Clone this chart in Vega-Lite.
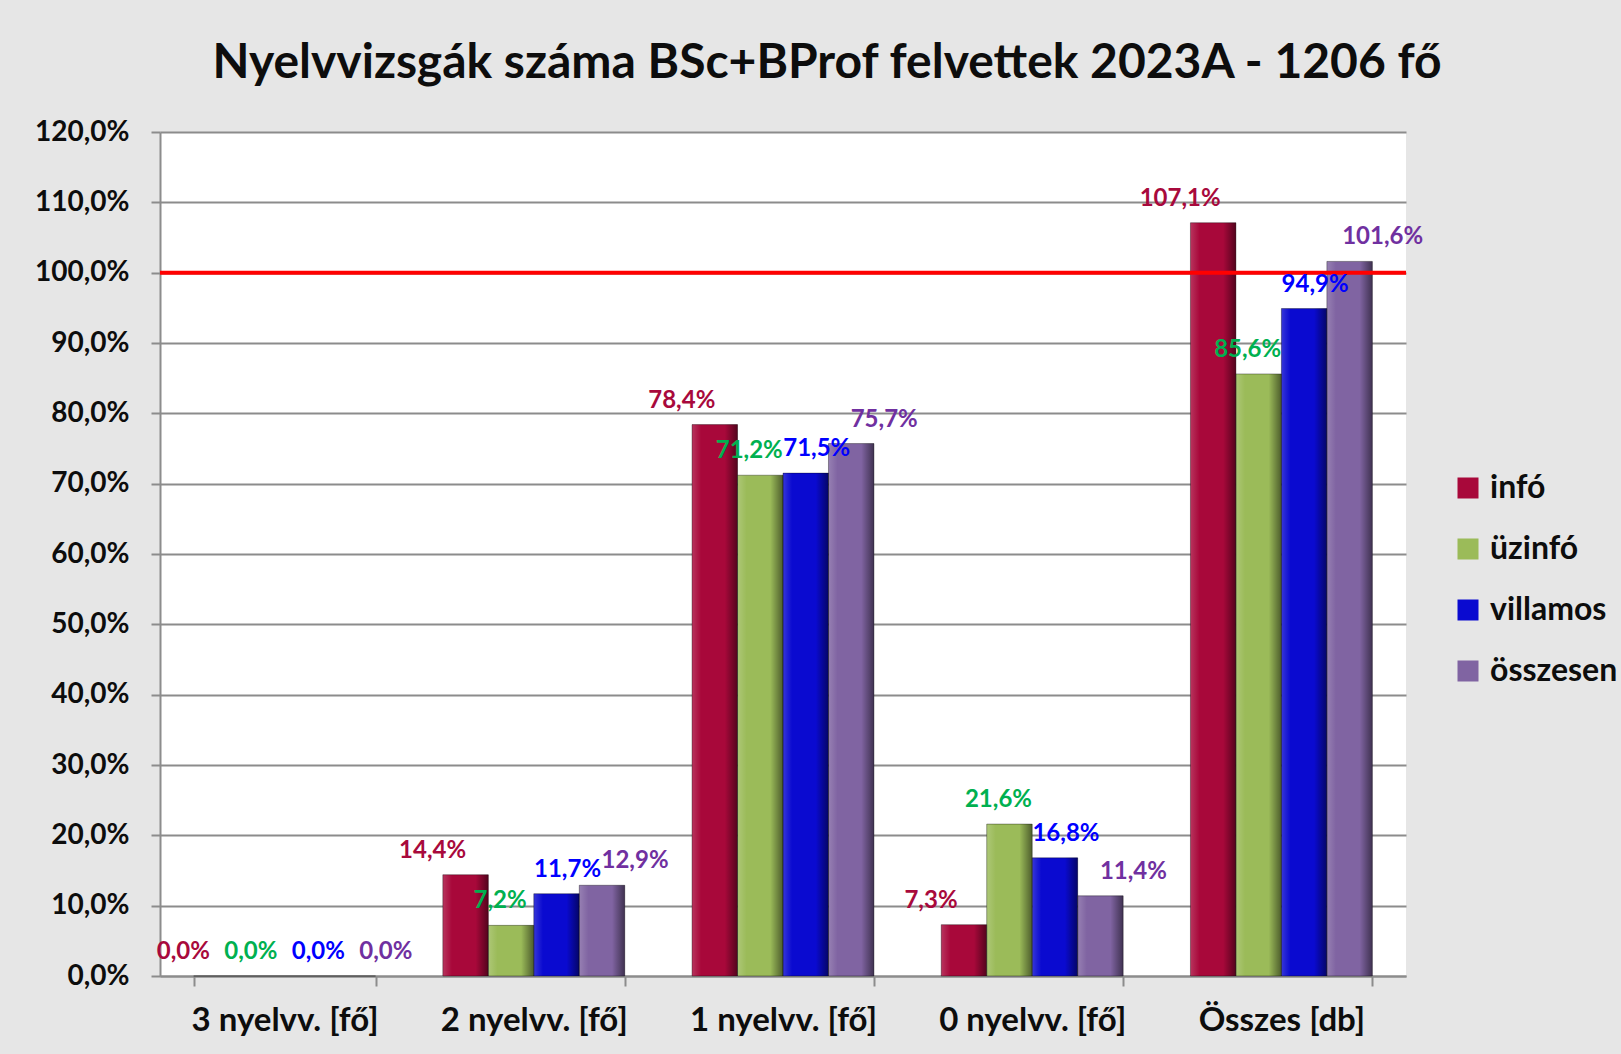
{
  "$schema": "https://vega.github.io/schema/vega-lite/v6.json",
  "width": 1246,
  "height": 844,
  "autosize": {"type": "none"},
  "padding": {"left": 160, "top": 132, "right": 215, "bottom": 78},
  "background": "#e6e6e6",
  "title": {
    "text": "Nyelvvizsgák száma BSc+BProf felvettek 2023A - 1206 fő",
    "font": "Lato", "fontSize": 48, "fontWeight": "bold", "color": "#0d0d0d",
    "anchor": "middle", "frame": "group", "offset": 30, "dx": 44
  },
  "data": {
    "values": [
      {"cat": "3 nyelvv. [fő]", "series": "infó", "value": 0},
      {"cat": "3 nyelvv. [fő]", "series": "üzinfó", "value": 0},
      {"cat": "3 nyelvv. [fő]", "series": "villamos", "value": 0},
      {"cat": "3 nyelvv. [fő]", "series": "összesen", "value": 0},
      {"cat": "2 nyelvv. [fő]", "series": "infó", "value": 0.144},
      {"cat": "2 nyelvv. [fő]", "series": "üzinfó", "value": 0.072},
      {"cat": "2 nyelvv. [fő]", "series": "villamos", "value": 0.117},
      {"cat": "2 nyelvv. [fő]", "series": "összesen", "value": 0.129},
      {"cat": "1 nyelvv. [fő]", "series": "infó", "value": 0.784},
      {"cat": "1 nyelvv. [fő]", "series": "üzinfó", "value": 0.712},
      {"cat": "1 nyelvv. [fő]", "series": "villamos", "value": 0.715},
      {"cat": "1 nyelvv. [fő]", "series": "összesen", "value": 0.757},
      {"cat": "0 nyelvv. [fő]", "series": "infó", "value": 0.073},
      {"cat": "0 nyelvv. [fő]", "series": "üzinfó", "value": 0.216},
      {"cat": "0 nyelvv. [fő]", "series": "villamos", "value": 0.168},
      {"cat": "0 nyelvv. [fő]", "series": "összesen", "value": 0.114},
      {"cat": "Összes [db]", "series": "infó", "value": 1.071},
      {"cat": "Összes [db]", "series": "üzinfó", "value": 0.856},
      {"cat": "Összes [db]", "series": "villamos", "value": 0.949},
      {"cat": "Összes [db]", "series": "összesen", "value": 1.016}
    ]
  },
  "layer": [
    {
      "mark": {"type": "bar"},
      "encoding": {
        "x": {
          "field": "cat", "type": "nominal",
          "sort": ["3 nyelvv. [fő]", "2 nyelvv. [fő]", "1 nyelvv. [fő]", "0 nyelvv. [fő]", "Összes [db]"],
          "scale": {"paddingInner": 0.27, "paddingOuter": 0.135},
          "axis": {
            "title": null, "labelAngle": 0, "tickBand": "extent", "ticks": true, "tickSize": 10,
            "tickColor": "#8c8c8c", "tickWidth": 2, "domainColor": "#8c8c8c", "domainWidth": 2,
            "labelFont": "Lato", "labelFontSize": 33, "labelFontWeight": "bold", "labelColor": "#0d0d0d",
            "labelPadding": 18, "labelLimit": 400, "labelOverlap": false, "grid": false
          }
        },
        "xOffset": {
          "field": "series", "type": "nominal",
          "sort": ["infó", "üzinfó", "villamos", "összesen"],
          "scale": {"paddingInner": 0, "paddingOuter": 0}
        },
        "y": {
          "field": "value", "type": "quantitative",
          "scale": {"domain": [0, 1.2], "nice": false, "zero": true},
          "axis": {
            "title": null, "values": [0, 0.1, 0.2, 0.3, 0.4, 0.5, 0.6, 0.7, 0.8, 0.9, 1.0, 1.1, 1.2],
            "format": ".1%", "grid": true, "gridColor": "#8c8c8c", "gridWidth": 2,
            "domainColor": "#8c8c8c", "domainWidth": 2, "tickColor": "#8c8c8c", "tickWidth": 2, "tickSize": 9,
            "labelFont": "Lato", "labelFontSize": 28, "labelFontWeight": "bold", "labelColor": "#0d0d0d",
            "labelPadding": 22
          }
        },
        "color": {
          "field": "series", "type": "nominal",
          "sort": ["infó", "üzinfó", "villamos", "összesen"],
          "scale": {"domain": ["infó", "üzinfó", "villamos", "összesen"], "range": ["#a8083a", "#9bbb59", "#0a0ad0", "#8064a2"]},
          "legend": {
            "title": null, "orient": "none", "legendX": 1292, "legendY": 340,
            "symbolType": "square", "symbolSize": 441, "symbolStrokeWidth": 0,
            "labelFont": "Lato", "labelFontSize": 32, "labelFontWeight": "bold", "labelColor": "#0d0d0d",
            "labelOffset": 6, "rowPadding": 29
          }
        }
      }
    },
    {
      "mark": {
        "type": "bar",
        "stroke": "rgba(0,0,0,0.35)", "strokeWidth": 1,
        "color": {
          "gradient": "linear", "x1": 0, "x2": 1, "y1": 0, "y2": 0,
          "stops": [
            {"offset": 0, "color": "rgba(255,255,255,0.18)"},
            {"offset": 0.2, "color": "rgba(255,255,255,0)"},
            {"offset": 0.72, "color": "rgba(0,0,0,0)"},
            {"offset": 1, "color": "rgba(0,0,0,0.5)"}
          ]
        }
      },
      "encoding": {
        "x": {"field": "cat", "type": "nominal", "sort": ["3 nyelvv. [fő]", "2 nyelvv. [fő]", "1 nyelvv. [fő]", "0 nyelvv. [fő]", "Összes [db]"]},
        "xOffset": {"field": "series", "type": "nominal", "sort": ["infó", "üzinfó", "villamos", "összesen"]},
        "y": {"field": "value", "type": "quantitative"}
      }
    },
    {
      "data": {"values": [{"ref": 1}]},
      "mark": {"type": "rule", "color": "#ff0000", "strokeWidth": 4},
      "encoding": {"y": {"field": "ref", "type": "quantitative"}}
    },
    {
      "transform": [{"filter": "datum.series == 'infó'"}],
      "mark": {"type": "text", "font": "Lato", "fontSize": 24, "fontWeight": "bold", "color": "#a8093c", "baseline": "bottom", "dx": -33, "dy": -12},
      "encoding": {
        "x": {"field": "cat", "type": "nominal", "sort": ["3 nyelvv. [fő]", "2 nyelvv. [fő]", "1 nyelvv. [fő]", "0 nyelvv. [fő]", "Összes [db]"]},
        "xOffset": {"field": "series", "type": "nominal", "sort": ["infó", "üzinfó", "villamos", "összesen"]},
        "y": {"field": "value", "type": "quantitative"},
        "text": {"field": "value", "type": "quantitative", "format": ".1%"}
      }
    },
    {
      "transform": [{"filter": "datum.series == 'üzinfó'"}],
      "mark": {"type": "text", "font": "Lato", "fontSize": 24, "fontWeight": "bold", "color": "#00b050", "baseline": "bottom", "dx": -11, "dy": -12},
      "encoding": {
        "x": {"field": "cat", "type": "nominal", "sort": ["3 nyelvv. [fő]", "2 nyelvv. [fő]", "1 nyelvv. [fő]", "0 nyelvv. [fő]", "Összes [db]"]},
        "xOffset": {"field": "series", "type": "nominal", "sort": ["infó", "üzinfó", "villamos", "összesen"]},
        "y": {"field": "value", "type": "quantitative"},
        "text": {"field": "value", "type": "quantitative", "format": ".1%"}
      }
    },
    {
      "transform": [{"filter": "datum.series == 'villamos'"}],
      "mark": {"type": "text", "font": "Lato", "fontSize": 24, "fontWeight": "bold", "color": "#0000ff", "baseline": "bottom", "dx": 11, "dy": -12},
      "encoding": {
        "x": {"field": "cat", "type": "nominal", "sort": ["3 nyelvv. [fő]", "2 nyelvv. [fő]", "1 nyelvv. [fő]", "0 nyelvv. [fő]", "Összes [db]"]},
        "xOffset": {"field": "series", "type": "nominal", "sort": ["infó", "üzinfó", "villamos", "összesen"]},
        "y": {"field": "value", "type": "quantitative"},
        "text": {"field": "value", "type": "quantitative", "format": ".1%"}
      }
    },
    {
      "transform": [{"filter": "datum.series == 'összesen'"}],
      "mark": {"type": "text", "font": "Lato", "fontSize": 24, "fontWeight": "bold", "color": "#7030a0", "baseline": "bottom", "dx": 33, "dy": -12},
      "encoding": {
        "x": {"field": "cat", "type": "nominal", "sort": ["3 nyelvv. [fő]", "2 nyelvv. [fő]", "1 nyelvv. [fő]", "0 nyelvv. [fő]", "Összes [db]"]},
        "xOffset": {"field": "series", "type": "nominal", "sort": ["infó", "üzinfó", "villamos", "összesen"]},
        "y": {"field": "value", "type": "quantitative"},
        "text": {"field": "value", "type": "quantitative", "format": ".1%"}
      }
    }
  ],
  "config": {
    "locale": {"number": {"decimal": ",", "thousands": " ", "grouping": [3], "currency": ["", " Ft"]}},
    "view": {"fill": "#ffffff", "stroke": null},
    "font": "Lato"
  }
}
